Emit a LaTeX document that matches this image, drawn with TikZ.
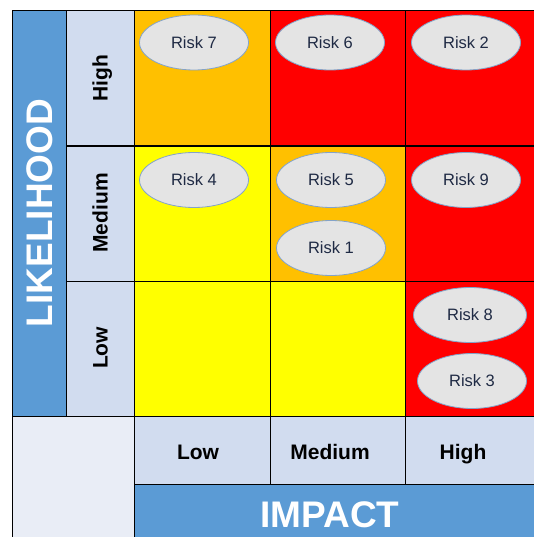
\documentclass[tikz,border=0pt]{standalone}
\usepackage{fontspec}
\setmainfont{Liberation Sans}
\usetikzlibrary{shapes.geometric}
\definecolor{cOrange}{HTML}{FFC000}
\definecolor{cRed}{HTML}{FF0000}
\definecolor{cYellow}{HTML}{FFFF00}
\definecolor{cBand}{HTML}{5B9BD5}
\definecolor{cLabel}{HTML}{D1DCEF}
\definecolor{cBlank}{HTML}{E9EDF6}
\definecolor{cEll}{HTML}{E4E4E4}
\definecolor{cEllLine}{HTML}{84A3C8}
\definecolor{cEllText}{HTML}{1F2A44}
\tikzset{
  cellbox/.style={draw=black, line width=1.3pt, inner sep=0pt, anchor=north west},
  riskell/.style={ellipse, draw=cEllLine, line width=0.8pt, fill=cEll, minimum width=109pt, minimum height=55pt, inner sep=0pt, text=cEllText, font=\fontsize{16.5}{19}\selectfont},
  lbltext/.style={font=\fontsize{21}{24}\selectfont\bfseries, text=black, inner sep=0pt},
  bandtext/.style={font=\fontsize{37}{40}\selectfont\bfseries, text=white, inner sep=0pt}
}
\begin{document}
\begin{tikzpicture}[x=1pt,y=-1pt]
\useasboundingbox (0,0) rectangle (534,537);
\clip (0,0) rectangle (534,537);
% likelihood band
\node[cellbox, fill=cBand, minimum width=54pt, minimum height=406pt] (lband) at (12,10) {};
% row label column
\node[cellbox, fill=cLabel, minimum width=68pt, minimum height=135.3pt] (rhigh) at (66,10) {};
\node[cellbox, fill=cLabel, minimum width=68pt, minimum height=135.3pt] (rmed) at (66,145.3) {};
\node[cellbox, fill=cLabel, minimum width=68pt, minimum height=135.3pt] (rlow) at (66,280.7) {};
% grid cells
\node[cellbox, fill=cOrange, minimum width=136pt, minimum height=135.3pt] (c11) at (134,10) {};
\node[cellbox, fill=cRed, minimum width=135pt, minimum height=135.3pt] (c12) at (270,10) {};
\node[cellbox, fill=cRed, minimum width=140pt, minimum height=135.3pt] (c13) at (405,10) {};
\node[cellbox, fill=cYellow, minimum width=136pt, minimum height=135.3pt] (c21) at (134,145.3) {};
\node[cellbox, fill=cOrange, minimum width=135pt, minimum height=135.3pt] (c22) at (270,145.3) {};
\node[cellbox, fill=cRed, minimum width=140pt, minimum height=135.3pt] (c23) at (405,145.3) {};
\node[cellbox, fill=cYellow, minimum width=136pt, minimum height=135.3pt] (c31) at (134,280.7) {};
\node[cellbox, fill=cYellow, minimum width=135pt, minimum height=135.3pt] (c32) at (270,280.7) {};
\node[cellbox, fill=cRed, minimum width=140pt, minimum height=135.3pt] (c33) at (405,280.7) {};
% bottom-left blank
\node[cellbox, fill=cBlank, minimum width=122pt, minimum height=140pt] (blank) at (12,416) {};
% column label row
\node[cellbox, fill=cLabel, minimum width=136pt, minimum height=68pt] (clow) at (134,416) {};
\node[cellbox, fill=cLabel, minimum width=135pt, minimum height=68pt] (cmed) at (270,416) {};
\node[cellbox, fill=cLabel, minimum width=140pt, minimum height=68pt] (chigh) at (405,416) {};
% impact band
\node[cellbox, fill=cBand, minimum width=420pt, minimum height=80pt] (iband) at (134,484) {};
% texts
\node[bandtext, rotate=90, anchor=base] (tlik) at (52,213) {LIKELIHOOD};
\node[bandtext, anchor=base] (timp) at (330,527.5) {IMPACT};
\node[lbltext, rotate=90, anchor=base] (thigh) at (107.5,78) {High};
\node[lbltext, rotate=90, anchor=base] (tmed) at (107.5,213) {Medium};
\node[lbltext, rotate=90, anchor=base] (tlow) at (107.5,348) {Low};
\node[lbltext, anchor=base] (tclow) at (198,459.5) {Low};
\node[lbltext, anchor=base] (tcmed) at (330,459.5) {Medium};
\node[lbltext, anchor=base] (tchigh) at (463,459.5) {High};
% risks
\node[riskell] (r7) at (194,42.5) {Risk 7};
\node[riskell] (r6) at (330,42.5) {Risk 6};
\node[riskell] (r2) at (466,42.5) {Risk 2};
\node[riskell] (r4) at (194,180) {Risk 4};
\node[riskell] (r5) at (331,180) {Risk 5};
\node[riskell] (r9) at (466,180) {Risk 9};
\node[riskell] (r1) at (331,248) {Risk 1};
\node[riskell, minimum width=113pt] (r8) at (470,315) {Risk 8};
\node[riskell] (r3) at (472,381) {Risk 3};
\end{tikzpicture}
\end{document}
